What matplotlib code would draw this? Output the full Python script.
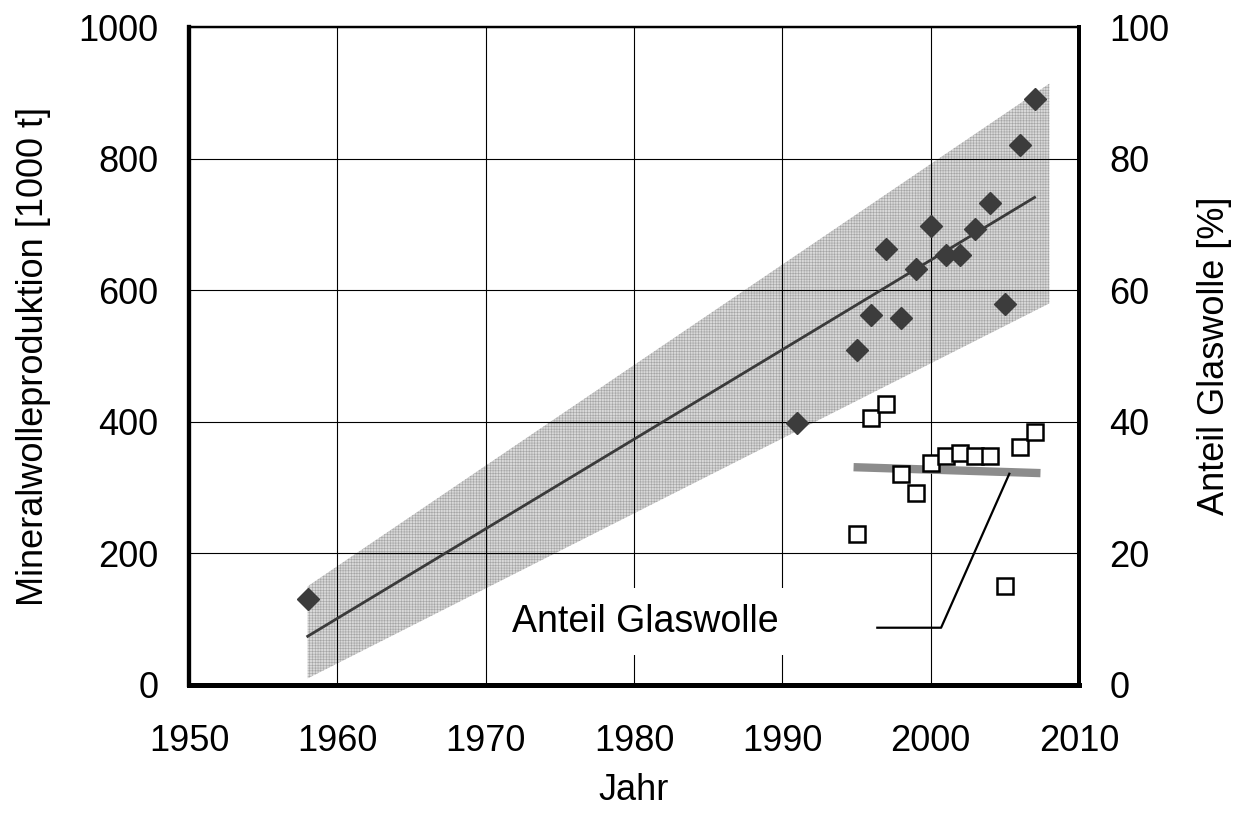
import matplotlib
matplotlib.use("Agg")
import matplotlib.pyplot as plt

plt.rcParams['font.family'] = ['Liberation Sans', 'DejaVu Sans']
plt.rcParams['hatch.linewidth'] = 0.4

# Mineral wool production [1000 t]
prod_years = [1958, 1991, 1995, 1996, 1997, 1998, 1999, 2000, 2001, 2002, 2003, 2004, 2005, 2006, 2007]
prod_values = [130, 398, 509, 562, 663, 557, 632, 698, 654, 654, 693, 733, 579, 820, 891]

# Share of glass wool [%]
glas_years = [1995, 1996, 1997, 1998, 1999, 2000, 2001, 2002, 2003, 2004, 2005, 2006, 2007]
glas_values = [23.0, 40.6, 42.7, 32.0, 29.2, 33.8, 34.8, 35.2, 34.8, 34.8, 15.1, 36.1, 38.4]

# Regression line for production
trend_years = [1958, 2007]
trend_values = [74, 741]

# Uncertainty band for production
band_years = [1958, 2008]
band_lower = [10, 580]
band_upper = [150, 914]

# Trend of glass wool share
glas_trend_years = [1994.8, 2007.4]
glas_trend_values = [33.1, 32.2]

# Leader line of the annotation (right axis)
leader_x = [2005.3, 2000.7, 1996.4]
leader_y = [32.1, 8.7, 8.7]

x_ticks = [1950, 1960, 1970, 1980, 1990, 2000, 2010]
y_ticks = [0, 200, 400, 600, 800, 1000]
y2_ticks = [0, 20, 40, 60, 80, 100]

fig = plt.figure(figsize=(12.38, 8.21), dpi=100)
ax = fig.add_axes([0.1527, 0.1657, 0.7189, 0.8014])
ax2 = ax.twinx()

ax.set_xlim(1950, 2010)
ax.set_ylim(0, 1000)
ax2.set_ylim(0, 100)

ax.set_axisbelow(True)
ax.grid(True, color='black', linewidth=0.8)

ax.fill_between(band_years, band_lower, band_upper, facecolor='#d8d8d8',
                edgecolor='#a4a4a4', hatch='++++++', linewidth=0, zorder=0.3)
ax.plot(trend_years, trend_values, color='#3a3a3a', linewidth=2.0, zorder=2)
ax.plot(prod_years, prod_values, linestyle='none', marker='D', markersize=11,
        markerfacecolor='#3c3c3c', markeredgecolor='#3c3c3c', zorder=3)

ax2.plot(glas_trend_years, glas_trend_values, color='#8c8c8c', linewidth=6,
         solid_capstyle='butt', zorder=2)
ax2.plot(glas_years, glas_values, linestyle='none', marker='s', markersize=11,
         markerfacecolor='white', markeredgecolor='black', markeredgewidth=1.8, zorder=3)
ax2.plot(leader_x, leader_y, color='black', linewidth=1.6, zorder=4)
ax2.text(1980.75, 9.6, 'Anteil Glaswolle', fontsize=27, ha='center', va='center',
         bbox=dict(facecolor='white', edgecolor='none', pad=11), zorder=1)

ax.set_xticks(x_ticks)
ax.set_yticks(y_ticks)
ax2.set_yticks(y2_ticks)
ax.tick_params(axis='both', length=0, labelsize=26)
ax.tick_params(axis='x', pad=28)
ax.tick_params(axis='y', pad=22)
ax2.tick_params(axis='y', length=0, labelsize=26, pad=22)

ax.set_xlabel('Jahr', fontsize=26, labelpad=10)
ax.set_ylabel('Mineralwolleproduktion [1000 t]', fontsize=26, labelpad=20)
ax2.set_ylabel('Anteil Glaswolle [%]', fontsize=26, labelpad=20)

for a in (ax, ax2):
    a.spines['left'].set_linewidth(3.0)
    a.spines['bottom'].set_linewidth(3.6)
    a.spines['right'].set_linewidth(2.8)
    a.spines['top'].set_linewidth(1.6)

fig.savefig('out.png', dpi=100)
